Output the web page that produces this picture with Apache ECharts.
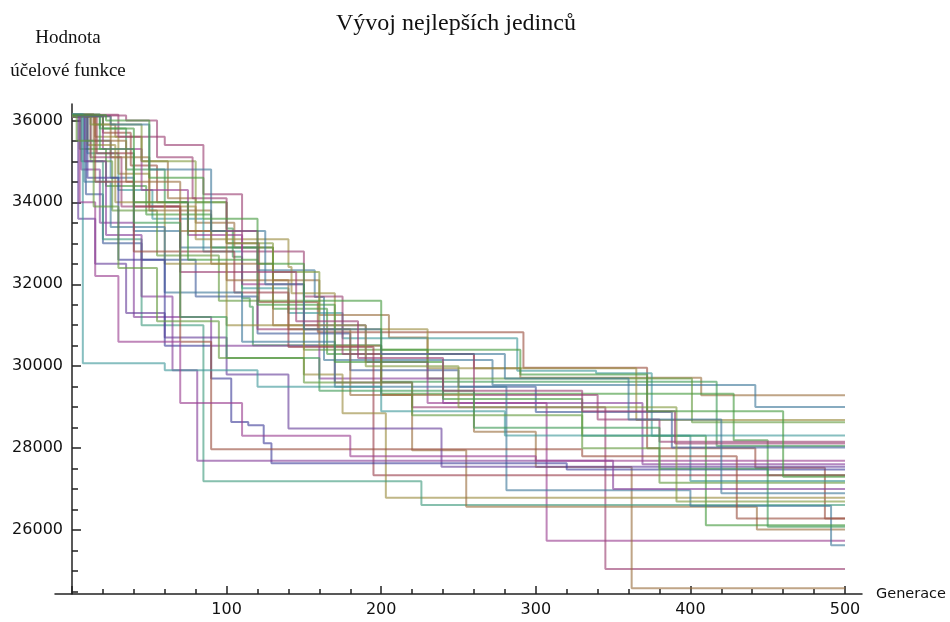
<!DOCTYPE html>
<html>
<head>
<meta charset="utf-8">
<script src="https://cdn.jsdelivr.net/npm/echarts@6/dist/echarts.min.js"></script>
<style>
  html, body { margin: 0; padding: 0; background: #fff; }
  #chart { width: 950px; height: 622px; }
</style>
</head>
<body>
<div id="chart"></div>
<script>
// best individual per generation, one step run per GA start: [generation, objective value]
const run01 = [[0,36150],[14,35900],[28,35600],[45,35000],[62,34100],[80,33500],[105,32900],[130,32100],[160,31250],[205,30700],[230,30300],[260,29950],[290,29720],[407,29290],[500,29290]]
const run02 = [[0,36100],[20,35700],[38,34900],[55,34000],[75,33300],[100,33000],[121,31570],[159,30830],[292,29960],[372,28000],[442,27520],[487,26285],[500,26285]]
const run03 = [[0,36120],[10,35200],[30,34300],[52,33600],[85,32800],[110,31900],[140,31300],[175,30680],[288,29890],[339,29830],[375,28300],[400,27200],[500,27200]]
const run04 = [[0,36100],[8,35500],[25,34600],[40,33300],[70,32900],[120,32340],[157,31690],[163,30150],[272,29540],[442,29007],[500,29007]]
const run05 = [[0,36150],[18,35800],[35,34800],[60,34000],[100,33360],[104,32670],[110,31660],[115,31450],[117,30510],[200,29620],[417,28050],[500,28050]]
const run06 = [[0,36080],[5,35300],[22,34400],[48,33700],[90,32900],[130,31400],[165,30300],[200,29330],[428,28195],[450,27340],[500,27340]]
const run07 = [[0,36100],[15,35600],[30,34700],[50,33900],[80,33100],[140,32420],[142,31780],[170,30900],[230,29950],[365,28690],[500,28690]]
const run08 = [[0,36130],[12,35000],[26,33800],[55,32700],[95,31600],[150,30400],[230,29700],[401,28634],[500,28634]]
const run09 = [[0,36100],[9,34200],[20,33000],[45,32600],[80,31700],[120,30800],[180,29900],[250,29500],[300,28885],[388,28015],[500,28015]]
const run10 = [[0,36100],[6,34800],[18,33500],[40,31200],[90,30500],[160,29700],[240,29100],[369,27610],[500,27610]]
const run11 = [[0,36140],[30,35600],[60,35400],[85,34200],[110,32800],[150,31700],[175,30300],[260,29300],[340,28700],[380,28155],[500,28155]]
const run12 = [[0,36110],[20,35300],[45,34300],[75,33200],[110,32000],[150,31000],[190,30100],[230,29100],[307,25740],[500,25740]]
const run13 = [[0,36090],[12,35100],[32,33900],[70,32300],[120,30900],[170,29600],[220,29000],[345,25050],[500,25050]]
const run14 = [[0,36100],[25,35100],[50,33800],[90,32500],[130,31000],[160,30500],[200,29300],[260,28400],[300,27540],[362,24578],[500,24578]]
const run15 = [[0,36120],[16,35200],[40,33900],[70,32800],[105,31800],[140,30470],[195,27340],[500,27340]]
const run16 = [[0,36100],[10,35400],[28,34000],[60,32500],[100,31000],[150,29800],[175,28850],[203,26790],[500,26790]]
const run17 = [[0,36130],[6,35000],[20,33100],[45,31000],[85,27195],[226,26610],[500,26610]]
const run18 = [[0,36100],[14,35500],[35,34500],[70,33300],[100,32100],[140,30900],[180,29300],[220,27950],[255,26570],[443,26015],[500,26015]]
const run19 = [[0,36140],[8,34500],[25,33400],[60,31800],[110,30600],[170,29500],[281,26975],[400,26585],[491,25630],[500,25630]]
const run20 = [[0,36100],[20,35800],[40,34000],[75,32600],[120,31500],[170,30100],[240,29200],[330,28300],[410,26120],[500,26120]]
const run21 = [[0,36100],[4,33600],[15,32500],[35,31300],[60,30700],[100,29800],[140,28480],[239,27545],[500,27545]]
const run22 = [[0,36120],[10,34600],[30,32600],[60,30500],[90,29700],[103,28640],[114,28560],[124,28120],[129,27630],[320,27480],[500,27480]]
const run23 = [[0,36100],[8,35000],[22,33200],[45,31700],[65,29900],[81,27690],[350,27000],[500,27000]]
const run24 = [[0,36100],[15,34500],[40,32800],[70,30600],[90,27975],[330,27800],[430,26285],[500,26285]]
const run25 = [[0,36150],[7,30070],[60,29900],[120,29500],[200,28900],[280,28310],[500,28310]]
const run26 = [[0,36100],[12,35900],[45,35000],[80,34000],[100,33000],[130,32300],[160,31000],[190,30000],[250,29000],[391,26700],[500,26700]]
const run27 = [[0,36100],[5,34000],[15,32200],[30,30600],[70,29100],[110,28300],[180,27800],[300,27690],[500,27690]]
const run28 = [[0,36110],[18,35300],[40,33500],[70,31200],[100,30200],[160,29400],[260,28500],[380,27500],[450,26080],[500,26080]]
const run29 = [[0,36100],[25,35900],[50,34800],[90,33300],[125,32000],[150,30900],[200,30300],[280,29700],[360,28700],[420,26900],[500,26900]]
const run30 = [[0,36120],[35,36000],[55,35100],[78,34100],[100,33300],[120,32300],[145,31100],[185,30200],[240,29400],[330,28900],[390,28115],[500,28115]]
const run31 = [[0,36130],[22,36000],[50,34600],[85,33600],[120,32500],[150,31600],[200,30400],[290,29800],[372,28900],[460,27300],[500,27300]]
const run32 = [[0,36100],[3,35500],[14,33900],[30,32400],[55,31100],[95,30200],[150,29600],[220,28800],[330,28000],[380,27155],[500,27155]]

const runs = [run01, run02, run03, run04, run05, run06, run07, run08, run09, run10, run11, run12, run13, run14, run15, run16,
  run17, run18, run19, run20, run21, run22, run23, run24, run25, run26, run27, run28, run29, run30, run31, run32]

const xMajor = [0, 100, 200, 300, 400, 500]
const xLabels = [100, 200, 300, 400, 500]
const xMinor = [20, 40, 60, 80, 120, 140, 160, 180, 220, 240, 260, 280, 320, 340, 360, 380, 420, 440, 460, 480]
const yMajor = [26000, 28000, 30000, 32000, 34000, 36000]
const yMinor = [24500, 25000, 25500, 26500, 27000, 27500, 28500, 29000, 29500, 30500, 31000, 31500, 32500, 33000, 33500, 34500, 35000, 35500]

// mathematica-ish default palette
const runColors = [
  '#996d3d', '#994e3d', '#3d9799', '#3d7899', '#3d9956', '#43993d', '#998b3d', '#62993d',
  '#3d5a99', '#843d99', '#993d71', '#993d90', '#993d71', '#996d3d', '#993d4b', '#998b3d',
  '#3d997c', '#996d3d', '#3d7899', '#43993d', '#653d99', '#3f3d99', '#843d99', '#994e3d',
  '#3d9799', '#81993d', '#993d90', '#3d9956', '#3d7899', '#993d71', '#43993d', '#62993d'
]

const chart = echarts.init(document.getElementById('chart'))

const axisColor = '#222'
const tickFont = { fontFamily: 'DejaVu Sans', fontSize: 16, color: '#111', formatter: v => String(v) }
// x range runs a bit past 0..500 so the x axis line sticks out like the original;
// y axis is pulled in by the same amount so it sits on x = 0
const yShift = -17

const option = {
  animation: false,
  title: {
    text: 'Vývoj nejlepších jedinců',
    left: 331,
    top: 7,
    textStyle: { fontFamily: 'Liberation Serif', fontSize: 24, fontWeight: 'normal', color: '#111' }
  },
  grid: { left: 55, right: 88, top: 104, bottom: 28, containLabel: false, outerBoundsMode: 'none' },
  xAxis: [
    {
      type: 'value',
      min: -11,
      max: 511,
      name: 'Generace',
      nameLocation: 'end',
      nameGap: 14,
      nameTextStyle: { fontFamily: 'DejaVu Sans', fontSize: 14.5, color: '#111' },
      splitLine: { show: false },
      axisLine: { onZero: false, lineStyle: { color: axisColor, width: 1.5 } },
      axisTick: { inside: true, length: 8, customValues: xMajor, lineStyle: { color: axisColor, width: 1.5 } },
      axisLabel: { customValues: xLabels, margin: 8, ...tickFont }
    },
    {
      type: 'value',
      min: -11,
      max: 511,
      position: 'bottom',
      splitLine: { show: false },
      axisLine: { show: false, onZero: false },
      axisTick: { inside: true, length: 5, customValues: xMinor, lineStyle: { color: axisColor, width: 1.5 } },
      axisLabel: { show: false }
    }
  ],
  yAxis: [
    {
      type: 'value',
      min: 24440,
      max: 36400,
      offset: yShift,
      name: 'Hodnota\núčelové funkce',
      nameLocation: 'end',
      nameGap: 16,
      nameTextStyle: { fontFamily: 'Liberation Serif', fontSize: 19, lineHeight: 33, align: 'center', padding: [0, 8, 0, 0], color: '#111' },
      splitLine: { show: false },
      axisLine: { onZero: false, lineStyle: { color: axisColor, width: 1.5 } },
      axisTick: { inside: true, length: 9, customValues: yMajor, lineStyle: { color: axisColor, width: 1.5 } },
      axisLabel: { customValues: yMajor, margin: 9, ...tickFont }
    },
    {
      type: 'value',
      min: 24440,
      max: 36400,
      position: 'left',
      offset: yShift,
      splitLine: { show: false },
      axisLine: { show: false, onZero: false },
      axisTick: { inside: true, length: 6, customValues: yMinor, lineStyle: { color: axisColor, width: 1.5 } },
      axisLabel: { show: false }
    }
  ],
  series: runs.map((run, i) => ({
    type: 'line',
    step: 'end',
    data: run,
    showSymbol: false,
    xAxisIndex: 0,
    yAxisIndex: 0,
    lineStyle: { color: runColors[i], width: 2, opacity: 0.62 }
  }))
}

chart.setOption(option)
</script>
</body>
</html>
